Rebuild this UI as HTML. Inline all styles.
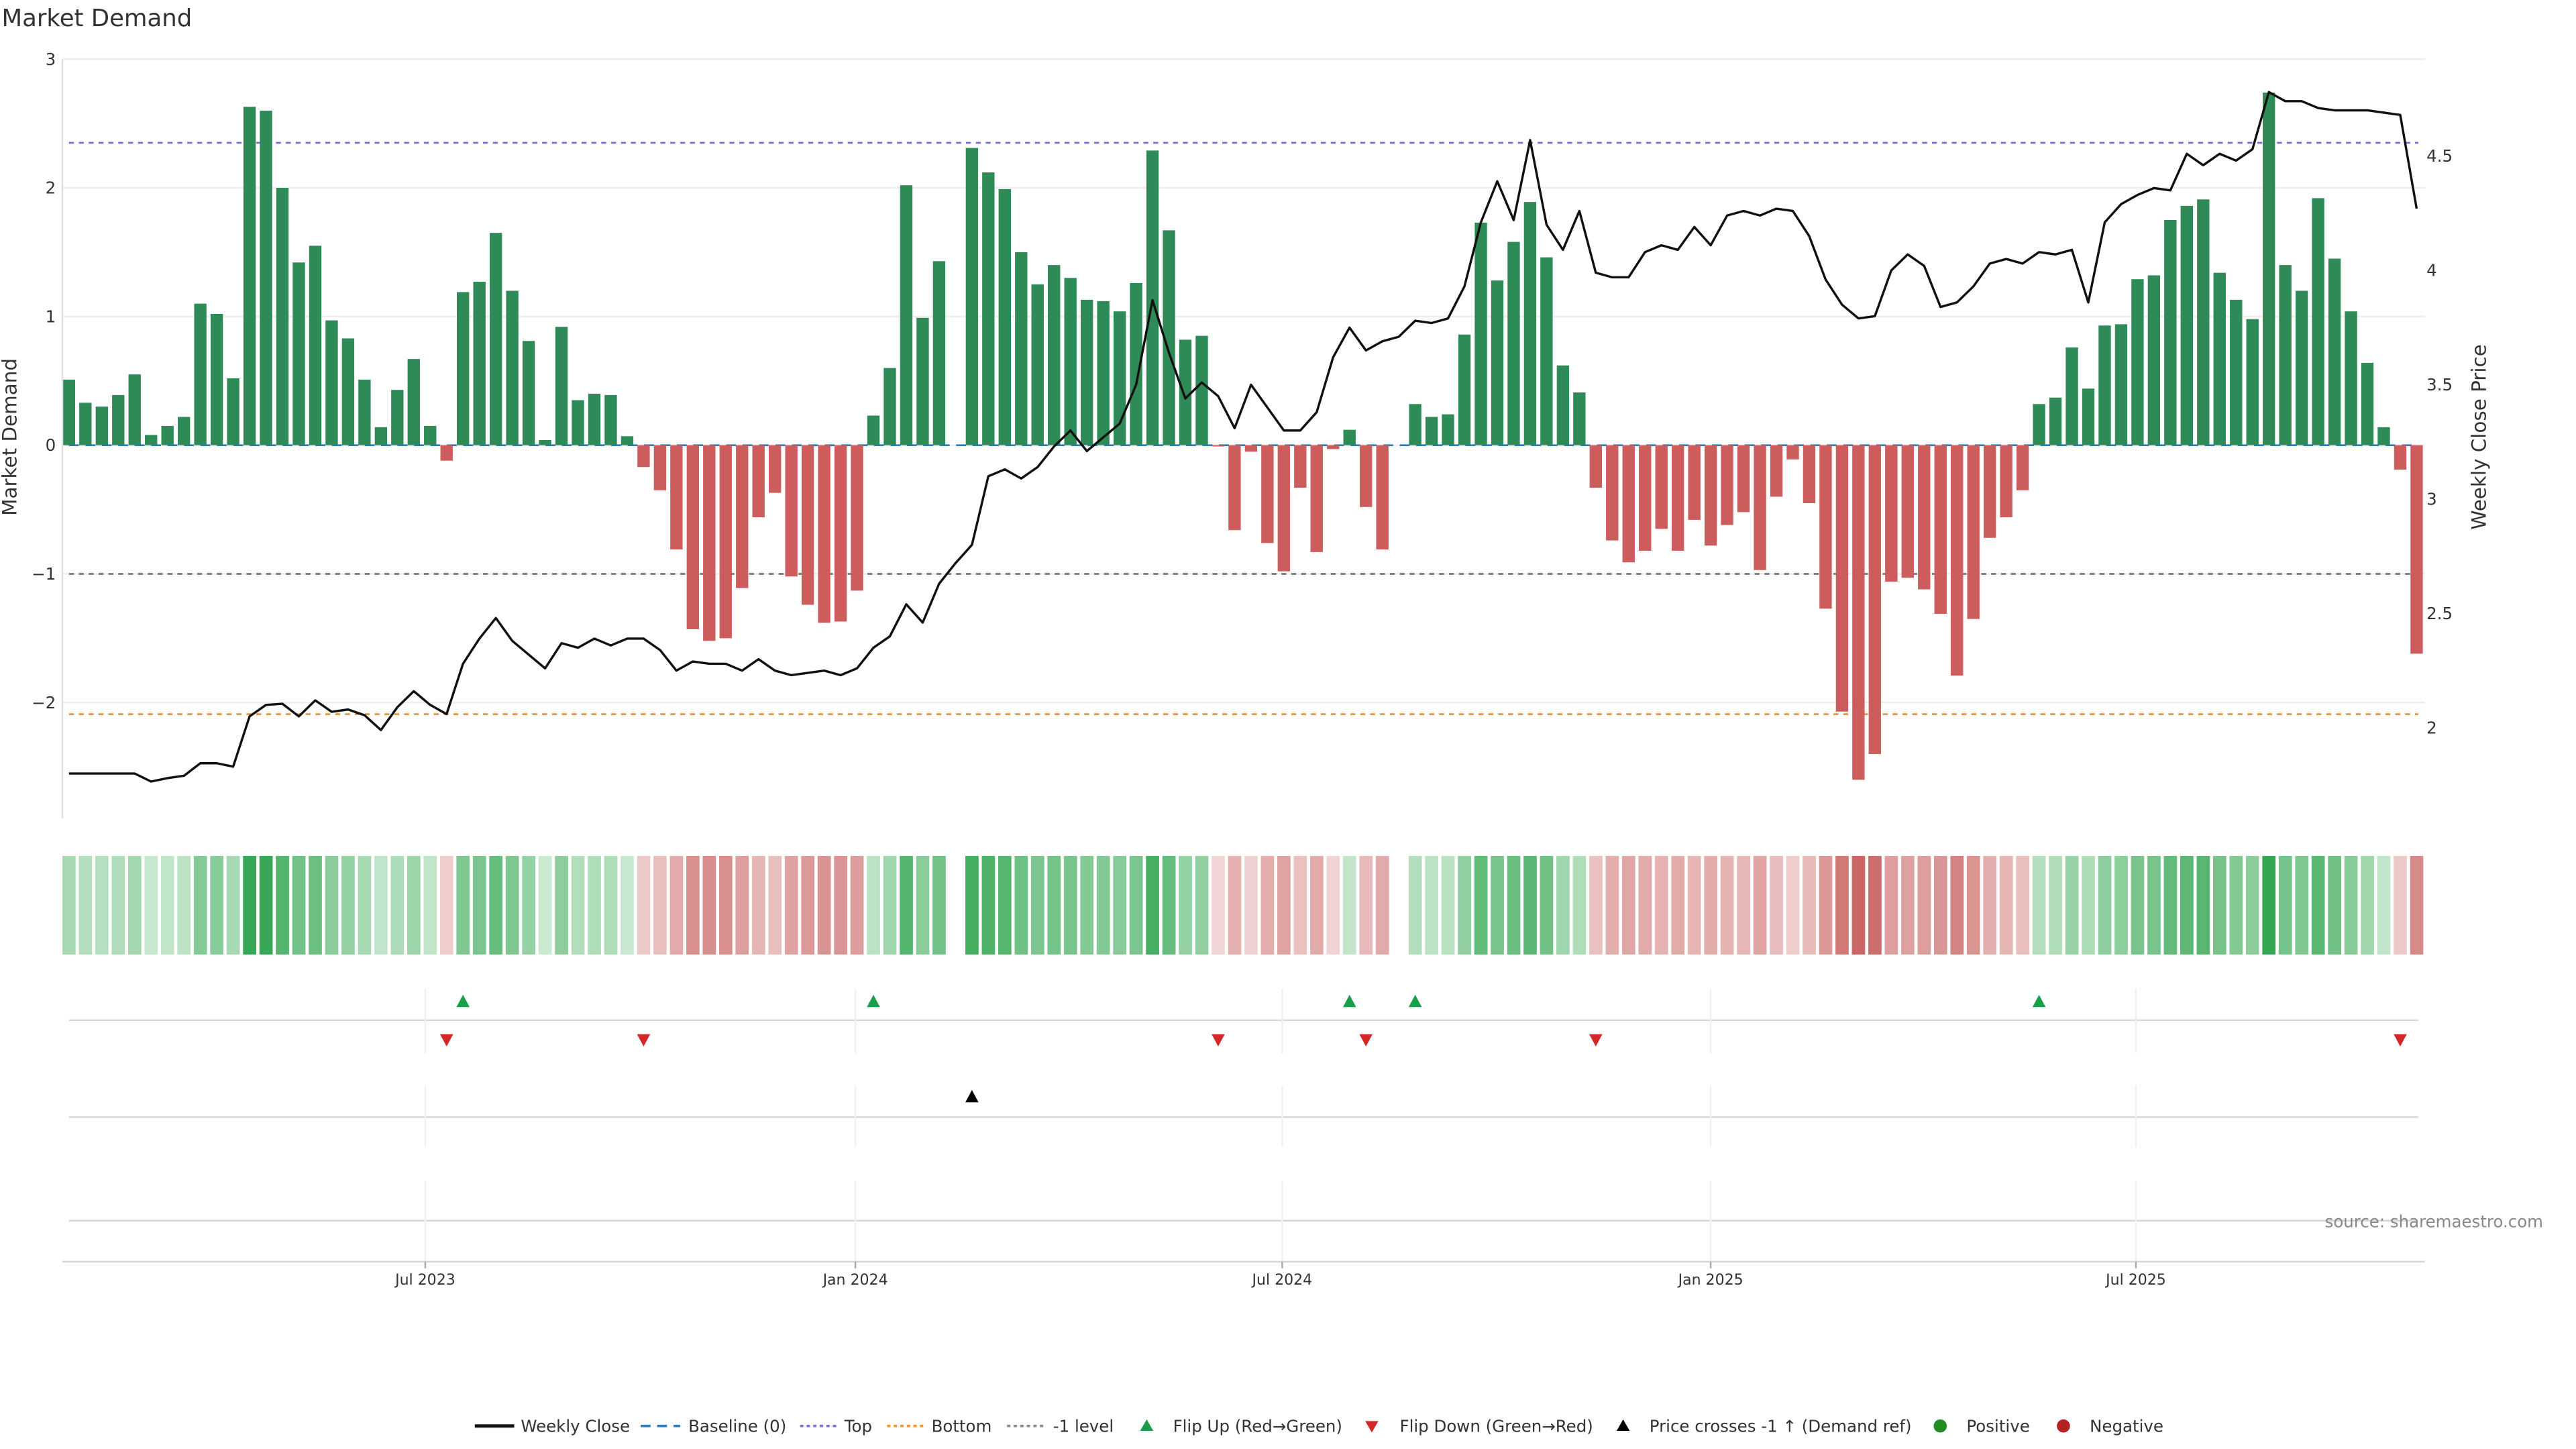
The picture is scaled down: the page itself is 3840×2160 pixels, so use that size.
<!DOCTYPE html>
<html><head><meta charset="utf-8"><title>Market Demand</title>
<style>html,body{margin:0;padding:0;background:#fff;}svg{display:block;}
text{font-family:"DejaVu Sans","Liberation Sans",sans-serif;}</style></head>
<body>
<svg id="chart" xmlns="http://www.w3.org/2000/svg" width="3840" height="2160" viewBox="0 0 1568 882">
<rect x="0" y="0" width="1568" height="882" fill="#fff"/>
<text x="1" y="16" font-size="14.5" fill="#333">Market Demand</text>
<g id="grid"></g>
<g id="refs"></g>
<g id="bars"></g>
<g id="line"></g>
<g id="heat"></g>
<g id="marks"></g>
<g id="axes"></g>
<text x="0" y="0" transform="translate(10,266) rotate(-90)" text-anchor="middle" font-size="12" fill="#333">Market Demand</text>
<text x="0" y="0" transform="translate(1513,266) rotate(-90)" text-anchor="middle" font-size="12" fill="#333">Weekly Close Price</text>
<text x="1548" y="747" text-anchor="end" font-size="10" fill="#888">source: sharemaestro.com</text>
<g id="legend" font-size="10" fill="#333"></g>
</svg>
<script>
const demand = [0.51,0.33,0.30,0.39,0.55,0.08,0.15,0.22,1.10,1.02,0.52,2.63,2.60,2.00,1.42,1.55,0.97,0.83,0.51,0.14,0.43,0.67,0.15,-0.12,1.19,1.27,1.65,1.20,0.81,0.04,0.92,0.35,0.40,0.39,0.07,-0.17,-0.35,-0.81,-1.43,-1.52,
-1.50,-1.11,-0.56,-0.37,-1.02,-1.24,-1.38,-1.37,-1.13,0.23,0.60,2.02,0.99,1.43,0,2.31,2.12,1.99,1.50,1.25,1.40,1.30,1.13,1.12,1.04,1.26,2.29,1.67,0.82,0.85,-0.01,-0.66,-0.05,-0.76,-0.98,-0.33,-0.83,-0.03,
0.12,-0.48,-0.81,0,0.32,0.22,0.24,0.86,1.73,1.28,1.58,1.89,1.46,0.62,0.41,-0.33,-0.74,-0.91,-0.82,-0.65,-0.82,-0.58,-0.78,-0.62,-0.52,-0.97,-0.40,-0.11,-0.45,-1.27,-2.07,-2.60,-2.40,-1.06,-1.03,-1.12,-1.31,-1.79,-1.35,
-0.72,-0.56,-0.35,0.32,0.37,0.76,0.44,0.93,0.94,1.29,1.32,1.75,1.86,1.91,1.34,1.13,0.98,2.74,1.40,1.20,1.92,1.45,1.04,0.64,0.14,-0.19,-1.62];
const price = [1.80,1.80,1.80,1.80,1.80,1.765,1.78,1.79,1.845,1.845,1.83,2.05,2.10,2.105,2.05,2.12,2.07,2.08,2.055,1.99,2.09,2.16,2.10,2.06,2.28,2.39,2.48,2.38,2.32,2.26,2.37,2.35,2.39,2.36,2.39,2.39,2.34,2.25,2.29,2.28,
2.28,2.25,2.30,2.25,2.23,2.24,2.25,2.23,2.26,2.35,2.40,2.54,2.46,2.63,2.72,2.80,3.10,3.13,3.09,3.14,3.23,3.30,3.21,3.27,3.33,3.50,3.87,3.64,3.44,3.51,3.45,3.31,3.50,3.40,3.30,3.30,3.38,3.62,
3.75,3.65,3.69,3.71,3.78,3.77,3.79,3.93,4.21,4.39,4.22,4.57,4.20,4.09,4.26,3.99,3.97,3.97,4.08,4.11,4.09,4.19,4.11,4.24,4.26,4.24,4.27,4.26,4.15,3.96,3.85,3.79,3.80,4.00,4.07,4.02,3.84,3.86,3.93,
4.03,4.05,4.03,4.08,4.07,4.09,3.86,4.21,4.29,4.33,4.36,4.35,4.51,4.46,4.51,4.48,4.53,4.78,4.74,4.74,4.71,4.70,4.70,4.70,4.69,4.68,4.27];
const crossUpIdx = [55];
const leftTicks = [3,2,1,0,-1,-2];
const leftTickLabels = ["3","2","1","0","\u22121","\u22122"];
const rightTicks = [4.5,4,3.5,3,2.5,2];
const rightTickLabels = ["4.5","4","3.5","3","2.5","2"];
const dateTickIdx = [21.7,47.9,73.9,100.0,125.9];
const dateTickLabels = ["Jul 2023","Jan 2024","Jul 2024","Jan 2025","Jul 2025"];
const topLevel = 2.35, bottomLevel = -2.09, minusLevel = -1;

const NS = "http://www.w3.org/2000/svg";
function mk(tag, attrs, parent){const e=document.createElementNS(NS,tag);for(const k in attrs)e.setAttribute(k,attrs[k]);parent.appendChild(e);return e;}
const X0=42, XSTEP=9.993, PL=38, PR=1476;
const xOf = i => X0 + i*XSTEP;
const yL = v => 271 - v*78.33;
const yR = p => 443 - (p-2)*139.2;

const grid=document.getElementById('grid');
leftTicks.forEach(v=>{const l=mk('line',{x1:PL,x2:PR,y1:yL(v),y2:yL(v),stroke:'#eeeeee','stroke-width':1},grid);

});

const refs=document.getElementById('refs');
[[topLevel,'#7b6fd6','top-line'],[minusLevel,'#777','minus-one-line'],[bottomLevel,'#f0922e','bottom-line']].forEach(r=>{
 const l=mk('line',{x1:42,x2:1472,y1:yL(r[0]),y2:yL(r[0]),stroke:r[1],'stroke-width':1.1,'stroke-dasharray':'3,3'},refs);
 
 });
const bl=mk('line',{x1:42,x2:1472,y1:yL(0),y2:yL(0),stroke:'#2f7bb4','stroke-width':1.1,'stroke-dasharray':'6,4'},refs);



const bars=document.getElementById('bars');
demand.forEach((v,i)=>{ if(v===0) return;
 const y0=yL(0), y1=yL(v);
 const r=mk('rect',{x:xOf(i)-3.75,y:Math.min(y0,y1),width:7.5,height:Math.max(0.6,Math.abs(y1-y0)),fill:v>0?'#2e8b57':'#cd5c5c'},bars);
 
 });

const lg=document.getElementById('line');
const path=mk('path',{d:price.map((p,i)=>(i?'L':'M')+xOf(i).toFixed(2)+','+yR(p).toFixed(2)).join(''),fill:'none',stroke:'#111','stroke-width':1.4,'stroke-linejoin':'round'},lg);



const heat=document.getElementById('heat');
function mix(a,b,t){return 'rgb('+a.map((c,k)=>Math.round(c+(b[k]-c)*t)).join(',')+')';}
demand.forEach((v,i)=>{ if(v===0) return;
 const t=Math.min(1,Math.abs(v)/2.7);
 const col=v>0?mix([208,236,214],[52,166,82],Math.pow(t,0.8)):mix([242,214,214],[200,100,98],Math.pow(t,0.8));
 const r=mk('rect',{x:xOf(i)-4.0,y:521,width:8.05,height:60,fill:col},heat);
 
 });

const marks=document.getElementById('marks');
[621,680,743].forEach(y=>{const l=mk('line',{x1:42,x2:1472,y1:y,y2:y,stroke:'#d6d6d6','stroke-width':1},marks);

});
dateTickIdx.forEach(d=>{const x=xOf(d);
 [[602,641],[661,698],[719,768]].forEach(s=>{const l=mk('line',{x1:x,x2:x,y1:s[0],y2:s[1],stroke:'#f0f0f0','stroke-width':1},marks);
 
 });});
let lastSign=0;
demand.forEach((v,i)=>{ if(v===0) return; const s=v>0?1:-1;
 if(lastSign!==0 && s!==lastSign){ const x=xOf(i);
  if(s>0){const t=mk('path',{d:`M${x-4},${613}L${x+4},${613}L${x},${605.5}Z`,fill:'#1a9e4a'},marks);
   
   }
  else{const t=mk('path',{d:`M${x-4},${629.5}L${x+4},${629.5}L${x},${637}Z`,fill:'#d62728'},marks);
   
   }
 } lastSign=s;});
crossUpIdx.forEach(i=>{const x=xOf(i);const t=mk('path',{d:`M${x-4},${671}L${x+4},${671}L${x},${663.5}Z`,fill:'#000'},marks);
 
 });

const axes=document.getElementById('axes');
const la=mk('line',{x1:PL,x2:PL,y1:36,y2:498,stroke:'#e0e0e0','stroke-width':1},axes);


leftTicks.forEach((v,k)=>{const t=mk('text',{x:34,y:yL(v)+3.5,'text-anchor':'end','font-size':10,fill:'#333'},axes);t.textContent=leftTickLabels[k];
 
 });
rightTicks.forEach((v,k)=>{const t=mk('text',{x:1477,y:yR(v)+3.5,'font-size':10,fill:'#333'},axes);t.textContent=rightTickLabels[k];
 
 });
const ba=mk('line',{x1:PL,x2:PR,y1:768,y2:768,stroke:'#d6d6d6','stroke-width':1},axes);


dateTickIdx.forEach((d,k)=>{const x=xOf(d);
 const tk=mk('line',{x1:x,x2:x,y1:768,y2:772,stroke:'#aaa','stroke-width':1},axes);
 
 
 const t=mk('text',{x:x,y:782,'text-anchor':'middle','font-size':9,fill:'#333'},axes);t.textContent=dateTickLabels[k];
 
 });

const leg=document.getElementById('legend');
const LY=868;
function ltext(x,s){const t=mk('text',{x:x,y:LY+3.5,'font-family':'Liberation Sans, sans-serif','font-size':10},leg);t.textContent=s;
 
 }
function lline(x,col,dash,name){const l=mk('line',{x1:x,x2:x+24,y1:LY,y2:LY,stroke:col,'stroke-width':dash?1.5:2,'stroke-dasharray':dash||'none'},leg);
 
 }
lline(289,'#111',null,'legend-weekly-close'); ltext(317,'Weekly Close');
lline(390,'#2f7bb4','6,4','legend-baseline'); ltext(419,'Baseline (0)');
lline(487,'#7b6fd6','2,2','legend-top'); ltext(514,'Top');
lline(540,'#f0922e','2,2','legend-bottom'); ltext(567,'Bottom');
lline(613,'#888','2,2','legend-minus-one'); ltext(641,'-1 level');
const t1=mk('path',{d:`M${694},${LY+3}L${702},${LY+3}L${698},${LY-4}Z`,fill:'#1a9e4a'},leg);


ltext(714,'Flip Up (Red\u2192Green)');
const t2=mk('path',{d:`M${831},${LY-3}L${839},${LY-3}L${835},${LY+4}Z`,fill:'#d62728'},leg);


ltext(852,'Flip Down (Green\u2192Red)');
const t3=mk('path',{d:`M${984},${LY+3}L${992},${LY+3}L${988},${LY-4}Z`,fill:'#000'},leg);


ltext(1004,'Price crosses -1 \u2191 (Demand ref)');
const c1=mk('circle',{cx:1181,cy:LY,r:4,fill:'#228b22'},leg);


ltext(1197,'Positive');
const c2=mk('circle',{cx:1256,cy:LY,r:4,fill:'#b22222'},leg);


ltext(1272,'Negative');
</script>
</body></html>
